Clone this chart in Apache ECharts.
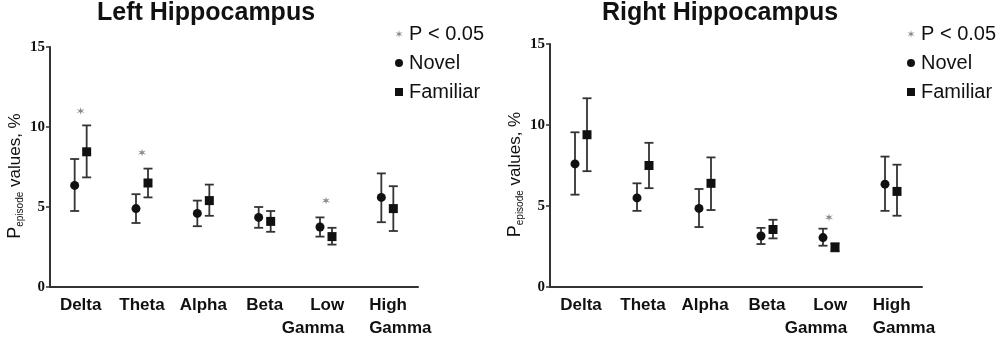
<!DOCTYPE html>
<html>
<head>
<meta charset="utf-8">
<script src="https://cdn.jsdelivr.net/npm/echarts@6/dist/echarts.min.js"></script>
<style>
  html, body { margin: 0; padding: 0; background: #fff; }
  #chart { width: 1000px; height: 340px; }
</style>
</head>
<body>
<div id="chart"></div>
<script>
// 频段类别
var categories = ['Delta', 'Theta', 'Alpha', 'Beta', 'Low\nGamma', 'High\nGamma']

// 左侧海马
var leftNovelMean = [6.35, 4.9, 4.6, 4.35, 3.75, 5.6]
var leftNovelLow = [4.75, 4.0, 3.8, 3.7, 3.15, 4.05]
var leftNovelHigh = [8.0, 5.8, 5.4, 5.0, 4.35, 7.1]
var leftFamMean = [8.45, 6.5, 5.4, 4.1, 3.15, 4.9]
var leftFamLow = [6.85, 5.6, 4.45, 3.45, 2.65, 3.5]
var leftFamHigh = [10.1, 7.4, 6.4, 4.75, 3.7, 6.3]
var leftStars = [[0, 11.0], [1, 8.4], [4, 5.4]]

// 右侧海马
var rightNovelMean = [7.6, 5.5, 4.85, 3.15, 3.05, 6.35]
var rightNovelLow = [5.7, 4.7, 3.7, 2.65, 2.55, 4.7]
var rightNovelHigh = [9.55, 6.4, 6.05, 3.65, 3.6, 8.05]
var rightFamMean = [9.4, 7.5, 6.4, 3.55, 2.45, 5.9]
var rightFamLow = [7.15, 6.1, 4.75, 3.0, 2.2, 4.4]
var rightFamHigh = [11.65, 8.9, 8.0, 4.15, 2.7, 7.55]
var rightStars = [[4, 4.3]]

var yTicks = [0, 5, 10, 15]

// 星号 (单个多边形, 避免重叠子路径)
var asterisk = 'path://M0,-5L0.75,-1.3L4.33,-2.5L1.5,0L4.33,2.5L0.75,1.3L0,5L-0.75,1.3L-4.33,2.5L-1.5,0L-4.33,-2.5L-0.75,-1.3Z'
var ink = '#111'
var axisInk = '#333'

function errData(low, high) {
  return low.map(function (v, i) { return [i, v, high[i]] })
}

// 误差棒: offset 为相对类别中心的水平偏移
function errRender(offset) {
  return function (params, api) {
    var i = api.value(0)
    var x = api.coord([i, 0])[0] + offset
    var lo = api.coord([i, api.value(1)])[1]
    var hi = api.coord([i, api.value(2)])[1]
    var st = { stroke: axisInk, lineWidth: 1.8 }
    return {
      type: 'group',
      children: [
        { type: 'line', shape: { x1: x, y1: lo, x2: x, y2: hi }, style: st },
        { type: 'line', shape: { x1: x - 4.5, y1: hi, x2: x + 4.5, y2: hi }, style: st },
        { type: 'line', shape: { x1: x - 4.5, y1: lo, x2: x + 4.5, y2: lo }, style: st }
      ]
    }
  }
}

// 两行标签: 原图中 Low Gamma 偏左, High Gamma 偏右
function catLabel(v) {
  if (v.indexOf('Low') === 0) return '{lo|Low}\n{lg|Gamma}'
  if (v.indexOf('High') === 0) return '{hi|High}\n{hg|Gamma}'
  return v
}

function xAxisFor(idx) {
  var base = { fontFamily: 'Liberation Sans', fontWeight: 'bold', fontSize: 17, lineHeight: 23, color: ink }
  return {
    type: 'category',
    gridIndex: idx,
    data: categories,
    axisLine: { lineStyle: { color: axisInk, width: 2 } },
    axisTick: { alignWithLabel: true, length: 4, lineStyle: { color: axisInk, width: 1.5 } },
    axisLabel: Object.assign({}, base, {
      margin: 7, interval: 0,
      formatter: catLabel,
      rich: {
        lo: Object.assign({}, base, { align: 'right', padding: [0, 26, 0, 0] }),
        lg: Object.assign({}, base, { align: 'right', padding: [0, 26, 0, 0] }),
        hi: Object.assign({}, base, { align: 'left', padding: [0, 0, 0, 26] }),
        hg: Object.assign({}, base, { align: 'left', padding: [0, 0, 0, 26] })
      }
    })
  }
}

function yAxisFor(idx) {
  return {
    type: 'value',
    gridIndex: idx,
    min: 0, max: 15, interval: 5,
    splitLine: { show: false },
    axisLine: { show: true, lineStyle: { color: axisInk, width: 2 } },
    axisTick: { show: true, length: 4, lineStyle: { color: axisInk, width: 1.5 } },
    axisLabel: {
      color: ink, fontFamily: 'Liberation Serif', fontWeight: 'bold', fontSize: 15, margin: 5,
      formatter: function (v) { return yTicks.indexOf(v) >= 0 ? String(v) : '' }
    },
    name: '{p|P}{s|episode}{v| values, %}',
    nameLocation: 'middle',
    nameRotate: 90,
    nameGap: 25,
    nameTextStyle: {
      padding: [0, 18, 0, 0],
      rich: {
        p: { fontFamily: 'Liberation Sans', fontSize: 18, color: ink },
        s: { fontFamily: 'Liberation Sans', fontSize: 10, color: ink, padding: [9, 0, 0, 0] },
        v: { fontFamily: 'Liberation Sans', fontSize: 17, color: ink }
      }
    }
  }
}

function panelSeries(idx, nMean, nLow, nHigh, fMean, fLow, fHigh, stars) {
  return [
    {
      type: 'custom', xAxisIndex: idx, yAxisIndex: idx, silent: true,
      renderItem: errRender(-6), encode: { x: 0, y: [1, 2] }, data: errData(nLow, nHigh), z: 2
    },
    {
      type: 'custom', xAxisIndex: idx, yAxisIndex: idx, silent: true,
      renderItem: errRender(6), encode: { x: 0, y: [1, 2] }, data: errData(fLow, fHigh), z: 2
    },
    {
      name: 'Novel', type: 'scatter', xAxisIndex: idx, yAxisIndex: idx, silent: true,
      symbol: 'circle', symbolSize: 9, symbolOffset: [-6, 0],
      itemStyle: { color: ink, opacity: 1 }, data: nMean, z: 3
    },
    {
      name: 'Familiar', type: 'scatter', xAxisIndex: idx, yAxisIndex: idx, silent: true,
      symbol: 'rect', symbolSize: 9, symbolOffset: [6, 0],
      itemStyle: { color: ink, opacity: 1 }, data: fMean, z: 3
    },
    {
      name: 'P < 0.05', type: 'scatter', xAxisIndex: idx, yAxisIndex: idx, silent: true,
      symbol: asterisk, symbolSize: 8,
      itemStyle: { color: '#888', opacity: 1 }, data: stars, z: 3
    }
  ]
}

function legendFor(left) {
  return {
    orient: 'vertical',
    left: left, top: 24,
    padding: 0,
    itemWidth: 8, itemHeight: 8, itemGap: 9,
    selectedMode: false,
    data: ['P < 0.05', 'Novel', 'Familiar'],
    textStyle: { fontFamily: 'Liberation Sans', fontSize: 20, color: ink, padding: [0, 0, 0, 1] }
  }
}

var chart = echarts.init(document.getElementById('chart'), null, { renderer: 'canvas' })
var titleStyle = { fontFamily: 'Liberation Sans', fontWeight: 'bold', fontSize: 25, color: ink }

chart.setOption({
  backgroundColor: '#fff',
  animation: false,
  title: [
    { text: 'Left Hippocampus', left: 97, top: 1, padding: 0, textStyle: titleStyle },
    { text: 'Right Hippocampus', left: 602, top: 1, padding: 0, textStyle: titleStyle }
  ],
  legend: [legendFor(395), legendFor(907)],
  grid: [
    { left: 50, top: 47, width: 368, height: 242 },
    { left: 550, top: 44, width: 372, height: 245 }
  ],
  xAxis: [xAxisFor(0), xAxisFor(1)],
  yAxis: [yAxisFor(0), yAxisFor(1)],
  series: panelSeries(0, leftNovelMean, leftNovelLow, leftNovelHigh, leftFamMean, leftFamLow, leftFamHigh, leftStars)
    .concat(panelSeries(1, rightNovelMean, rightNovelLow, rightNovelHigh, rightFamMean, rightFamLow, rightFamHigh, rightStars))
})
</script>
</body>
</html>
